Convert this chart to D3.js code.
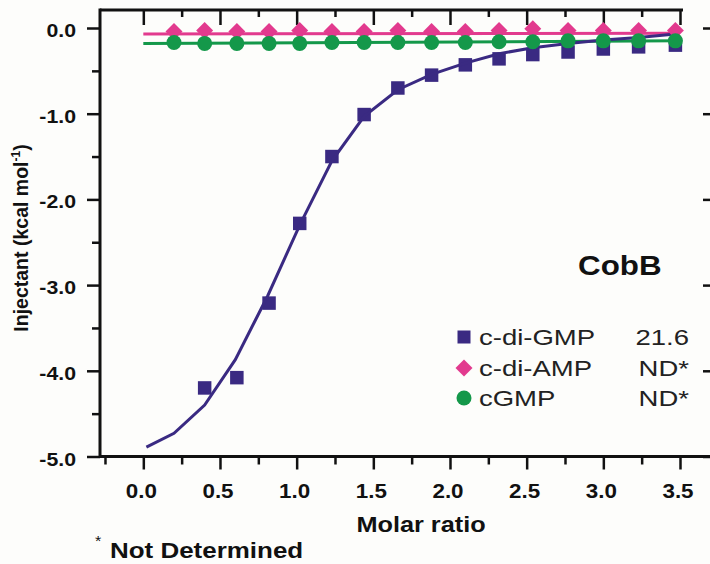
<!DOCTYPE html>
<html>
<head>
<meta charset="utf-8">
<script src="https://cdn.jsdelivr.net/npm/d3@7"></script>
<style>
  html, body { margin: 0; padding: 0; background: #fdfdfb; }
  svg { display: block; font-family: "Liberation Sans", Arial, sans-serif; }
</style>
</head>
<body>
<div id="chart"></div>
<script>
// Injection points (molar ratio)
const molarRatio = [0.2, 0.4, 0.61, 0.82, 1.02, 1.23, 1.44, 1.66, 1.88, 2.1, 2.32, 2.54, 2.77, 3.0, 3.23, 3.47];

// c-di-GMP (squares) starts at the 2nd injection
const gmpX = molarRatio.slice(1);
const gmpY = [-4.20, -4.08, -3.21, -2.28, -1.50, -1.01, -0.70, -0.55, -0.43, -0.36, -0.31, -0.28, -0.245, -0.22, -0.20];

// c-di-GMP fitted curve
const gmpFitX = [0.02, 0.2, 0.4, 0.6, 0.81, 1.02, 1.23, 1.44, 1.66, 1.88, 2.1, 2.32, 2.54, 2.77, 3.0, 3.23, 3.47];
const gmpFitY = [-4.89, -4.73, -4.40, -3.87, -3.13, -2.30, -1.55, -1.03, -0.72, -0.54, -0.41, -0.30, -0.23, -0.18, -0.14, -0.11, -0.07];

// c-di-AMP (diamonds) and cGMP (circles)
const ampY = [-0.04, -0.03, -0.04, -0.04, -0.03, -0.04, -0.04, -0.03, -0.04, -0.04, -0.03, -0.01, -0.03, -0.03, -0.03, -0.03];
const cgmpY = [-0.17, -0.18, -0.18, -0.18, -0.18, -0.17, -0.17, -0.17, -0.17, -0.17, -0.16, -0.16, -0.15, -0.15, -0.15, -0.15];
const ampFitX = [0, 3.5];
const ampFitY = [-0.07, -0.06];
const cgmpFitX = [0, 3.5];
const cgmpFitY = [-0.18, -0.15];

// Ticks
const xTicks = [0, 0.5, 1, 1.5, 2, 2.5, 3, 3.5];
const xTickLabels = ["0.0", "0.5", "1.0", "1.5", "2.0", "2.5", "3.0", "3.5"];
const xMinorTicks = [-0.25, 0.25, 0.75, 1.25, 1.75, 2.25, 2.75, 3.25];
const yTicks = [0, -1, -2, -3, -4, -5];
const yTickLabels = ["0.0", "-1.0", "-2.0", "-3.0", "-4.0", "-5.0"];
const yMinorTicks = [-0.5, -1.5, -2.5, -3.5, -4.5];

// Legend
const legendNames = ["c-di-GMP", "c-di-AMP", "cGMP"];
const legendValues = ["21.6", "ND*", "ND*"];

const colors = { gmp: "#3a2a82", amp: "#e23a8e", cgmp: "#14984a" };

const W = 710, H = 564;
const plot = { left: 100, top: 10, bottom: 456.5 };

const svg = d3.select("#chart").append("svg")
  .attr("width", W).attr("height", H)
  .attr("viewBox", [0, 0, W, H]);

// Scales
const x = d3.scaleLinear().domain([-0.2825, 3.5]).range([plot.left, 680]);
const y = d3.scaleLinear().domain([-5, 0]).range([plot.bottom, 28]);

// stretched text helper (the figure's lettering is horizontally widened)
function label(sel, px, py, str, o = {}) {
  return sel.append("text")
    .attr("transform", `translate(${px},${py}) scale(${o.sx || 1.15},1)`)
    .attr("text-anchor", o.anchor || "start")
    .attr("font-size", o.size || 19)
    .attr("font-weight", o.weight || "bold")
    .attr("fill", o.fill || "#111")
    .text(str);
}

const axisStyle = (g) => {
  g.select(".domain").remove();
  g.selectAll(".tick line").attr("stroke", "#111").attr("stroke-width", 2.5);
};

// Left axis
svg.append("g").attr("transform", `translate(${plot.left},0)`)
  .call(d3.axisLeft(y).tickValues(yTicks).tickSize(13).tickFormat(""))
  .call(axisStyle);
svg.append("g").attr("transform", `translate(${plot.left},0)`)
  .call(d3.axisLeft(y).tickValues(yMinorTicks).tickSize(8).tickFormat(""))
  .call(axisStyle);

// Right-side tick marks (spine not drawn)
svg.append("g").attr("transform", `translate(703,0)`)
  .call(d3.axisRight(y).tickValues(yTicks).tickSize(8).tickFormat(""))
  .call(axisStyle);

// Bottom axis
svg.append("g").attr("transform", `translate(0,${plot.bottom})`)
  .call(d3.axisBottom(x).tickValues(xTicks).tickSize(13).tickFormat(""))
  .call(axisStyle);
svg.append("g").attr("transform", `translate(0,${plot.bottom})`)
  .call(d3.axisBottom(x).tickValues(xMinorTicks).tickSize(8).tickFormat(""))
  .call(axisStyle);

// Top axis, ticks pointing inward
svg.append("g").attr("transform", `translate(0,${plot.top})`)
  .call(d3.axisBottom(x).tickValues(xTicks).tickSize(15).tickFormat(""))
  .call(axisStyle);
svg.append("g").attr("transform", `translate(0,${plot.top})`)
  .call(d3.axisBottom(x).tickValues(xMinorTicks.slice(1)).tickSize(7).tickFormat(""))
  .call(axisStyle);

// Spines
svg.append("line").attr("x1", plot.left).attr("x2", plot.left)
  .attr("y1", plot.top - 1.5).attr("y2", plot.bottom + 1.5)
  .attr("stroke", "#111").attr("stroke-width", 3);
svg.append("line").attr("x1", plot.left).attr("x2", 683)
  .attr("y1", plot.top).attr("y2", plot.top)
  .attr("stroke", "#111").attr("stroke-width", 3);
svg.append("line").attr("x1", plot.left).attr("x2", W)
  .attr("y1", plot.bottom).attr("y2", plot.bottom)
  .attr("stroke", "#111").attr("stroke-width", 3);

// Tick labels
yTicks.forEach((t, i) => label(svg, 76, y(t) + 9, yTickLabels[i], { anchor: "end", size: 19, sx: 1.12 }));
xTicks.forEach((t, i) => label(svg, x(t) - 2, 498, xTickLabels[i], { anchor: "middle", size: 20, sx: 1.12 }));

// Axis titles
const yl = svg.append("text")
  .attr("transform", `translate(28,238) rotate(-90)`)
  .attr("text-anchor", "middle")
  .attr("font-size", 19.5)
  .attr("font-weight", "bold")
  .attr("fill", "#111");
yl.append("tspan").text("Injectant (kcal mol");
yl.append("tspan").attr("font-size", 12).attr("dy", -8).text("-1");
yl.append("tspan").attr("dy", 8).text(")");

label(svg, 421, 532, "Molar ratio", { anchor: "middle", size: 22, sx: 1.15 });

const nd = svg.append("g");
label(nd, 95, 546, "*", { size: 14, weight: "normal" });
label(nd, 110, 558, "Not Determined", { size: 22, sx: 1.18 });

// Lines
const line = d3.line().x((d) => x(d[0])).y((d) => y(d[1]));

svg.append("path")
  .datum(d3.zip(ampFitX, ampFitY))
  .attr("d", line).attr("fill", "none")
  .attr("stroke", colors.amp).attr("stroke-width", 3);
svg.append("path")
  .datum(d3.zip(cgmpFitX, cgmpFitY))
  .attr("d", line).attr("fill", "none")
  .attr("stroke", colors.cgmp).attr("stroke-width", 3);

// c-di-GMP squares (drawn below the fit line)
svg.append("g").selectAll("path")
  .data(d3.zip(gmpX, gmpY))
  .join("path")
  .attr("transform", (d) => `translate(${x(d[0])},${y(d[1])})`)
  .attr("d", d3.symbol(d3.symbolSquare, 13.5 * 13.5))
  .attr("fill", colors.gmp);

svg.append("path")
  .datum(d3.zip(gmpFitX, gmpFitY))
  .attr("d", line).attr("fill", "none")
  .attr("stroke", colors.gmp).attr("stroke-width", 3);

// c-di-AMP diamonds
svg.append("g").selectAll("path")
  .data(d3.zip(molarRatio, ampY))
  .join("path")
  .attr("transform", (d) => `translate(${x(d[0])},${y(d[1])}) rotate(45)`)
  .attr("d", d3.symbol(d3.symbolSquare, 12 * 12))
  .attr("fill", colors.amp);

// cGMP circles
svg.append("g").selectAll("circle")
  .data(d3.zip(molarRatio, cgmpY))
  .join("circle")
  .attr("cx", (d) => x(d[0])).attr("cy", (d) => y(d[1]))
  .attr("r", 7.5)
  .attr("fill", colors.cgmp);

// Title and legend
label(svg, 578, 275, "CobB", { size: 28, sx: 1.12 });

const legendRows = [337, 368, 398];
const legendShapes = [
  (g) => g.append("rect").attr("x", -6.5).attr("y", -6.5).attr("width", 13).attr("height", 13).attr("fill", colors.gmp),
  (g) => g.append("path").attr("d", d3.symbol(d3.symbolSquare, 12 * 12)).attr("transform", "rotate(45)").attr("fill", colors.amp),
  (g) => g.append("circle").attr("r", 7.5).attr("fill", colors.cgmp),
];
legendNames.forEach((name, i) => {
  const g = svg.append("g").attr("transform", `translate(464,${legendRows[i]})`);
  legendShapes[i](g);
  label(svg, 479, legendRows[i] + 8, name, { size: 22, weight: "normal", sx: 1.25, fill: "#222" });
  label(svg, 689, legendRows[i] + 8, legendValues[i], { anchor: "end", size: 22, weight: "normal", sx: 1.25, fill: "#222" });
});
</script>
</body>
</html>
